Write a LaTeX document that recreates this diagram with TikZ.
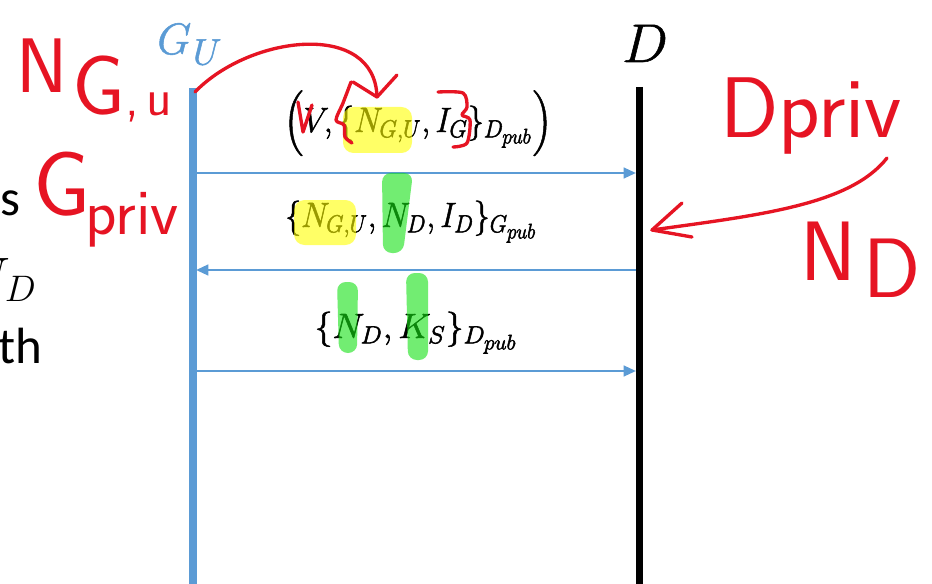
\RequirePackage{fix-cm}
\documentclass[tikz,border=0pt]{standalone}
\usepackage{amsmath}
\usepackage{fontspec}
\usetikzlibrary{arrows.meta}
\newfontfamily\bodyfont{Carlito}
\definecolor{lifeblue}{RGB}{91,155,213}
\definecolor{inkred}{RGB}{230,20,35}
\definecolor{hlyellow}{RGB}{255,255,0}
\definecolor{hlgreen}{RGB}{20,225,20}
\DeclareMathSizes{20}{20}{14}{12}
\newcommand{\heavytext}[1]{\special{pdf:literal direct 2 Tr 0.3 w}#1\special{pdf:literal direct 0 Tr}}
\begin{document}
\begin{tikzpicture}[x=0.02cm,y=-0.02cm,
  lifeG/.style={draw=lifeblue,line width=4pt},
  lifeD/.style={draw=black,line width=3.6pt},
  msgarrow/.style={draw=lifeblue,line width=1.4pt,-{Triangle[length=7pt,width=6pt]}},
  msgtext/.style={anchor=base,inner sep=0pt,font=\fontsize{20}{24}\selectfont},
  hand/.style={inner sep=0pt,text=inkred,anchor=base west},
  ink/.style={draw=inkred,line width=1.9pt,line cap=round,line join=round},
  hly/.style={fill=hlyellow,fill opacity=0.6,rounded corners=6pt},
  hlg/.style={fill=hlgreen,fill opacity=0.6,rounded corners=5pt},
  cut/.style={anchor=base east,inner sep=0pt,font=\bodyfont\fontsize{29}{32}\selectfont}
  ]
\useasboundingbox (0,0) rectangle (932,584);
\clip (0,0) rectangle (932,584);
\fill[white] (0,0) rectangle (932,584);

% partially hidden text on the left
\node[cut] (cuts) at (21,215) {s};
\node[cut] (cutn) at (37,294) {\fontsize{30}{32}\selectfont$N_D$};
\node[cut] (cutth) at (43,363) {th};

% lifelines
\coordinate (gtop) at (193,88);
\coordinate (gbot) at (193,590);
\coordinate (dtop) at (639.5,87);
\coordinate (dbot) at (639.5,590);
\draw[lifeG] (gtop) -- (gbot);
\draw[lifeD] (dtop) -- (dbot);

\node[anchor=base west,inner sep=0pt,text=lifeblue] (glabel) at (157,54) {\heavytext{\fontsize{25}{27}\selectfont$G$\kern1pt\raisebox{-6pt}{\fontsize{21}{23}\selectfont$U$}}};
\node[anchor=base,inner sep=0pt,font=\fontsize{31}{34}\selectfont] (dlabel) at (645,62) {\heavytext{$D$}};

% messages
\coordinate (g1) at (196,173); \coordinate (d1) at (636,173);
\coordinate (g2) at (196,270); \coordinate (d2) at (636,270);
\coordinate (g3) at (196,371); \coordinate (d3) at (636,371);
\draw[msgarrow] (g1) -- (d1);
\draw[msgarrow] (d2) -- (g2);
\draw[msgarrow] (g3) -- (d3);

\node[msgtext] (m1) at (418,132) {\heavytext{\scalebox{0.92}[1]{$\left(\vrule height 25pt depth 15pt width 0pt V,\{N_{G,U},I_G\}_{D_{pub}}\right)$}}};
\node[msgtext] (m2) at (411,227) {\heavytext{\scalebox{0.91}[1]{$\{N_{G,U},N_D,I_D\}_{G_{pub}}$}}};
\node[msgtext] (m3) at (416,338) {\heavytext{\scalebox{1.02}[1]{$\{N_D,K_S\}_{D_{pub}}$}}};

% highlights
\fill[hly] (343,107) rectangle (412,153);
\fill[hly] (294,200) rectangle (356,245);
\fill[hlg] (382,173) -- (413,173) -- (403,253) -- (383,253) -- cycle;
\fill[hlg] (337,282) -- (358,282) -- (357,353) -- (339,353) -- cycle;
\fill[hlg] (406,273) -- (428,273) -- (428,360) -- (408,360) -- cycle;

% red handwriting
\node[hand] (hng) at (16,93) {\sffamily\fontsize{44}{46}\selectfont N\kern3pt\raisebox{-12pt}{\fontsize{48}{50}\selectfont G}\raisebox{-13pt}{\fontsize{30}{32}\selectfont ,\kern4pt u}};
\node[hand] (hgp) at (33,235) {\sffamily\fontsize{37}{40}\selectfont\raisebox{11pt}{\fontsize{52}{54}\selectfont G}\kern-3pt priv};
\node[hand] (hdp) at (720,138) {\sffamily\fontsize{49}{52}\selectfont Dpriv};
\node[hand] (hnd) at (800,280) {\sffamily\fontsize{48}{50}\selectfont N\kern4pt\raisebox{-10pt}{D}};

\coordinate (redstart) at (195,92);
\coordinate (redtip) at (377,97);
\draw[ink] (redstart) .. controls (250,35) and (375,20) .. (redtip);
\draw[ink] (353,82) -- (redtip) -- (397,75);
\draw[ink] (298,102) -- (303,132) -- (312,105);
\draw[ink] plot[smooth] coordinates {(351,82) (343,103) (336,120) (344,125) (345,137) (352,143)};
\draw[ink] plot[smooth] coordinates {(438,92) (463,93) (467,107) (462,115) (470,120) (467,143) (453,147)};

\coordinate (dpstart) at (887,158);
\coordinate (dptip) at (652,230);
\draw[ink] (dpstart) .. controls (850,205) and (760,215) .. (dptip);
\draw[ink] (682,203) -- (dptip) -- (692,237);
\end{tikzpicture}
\end{document}
